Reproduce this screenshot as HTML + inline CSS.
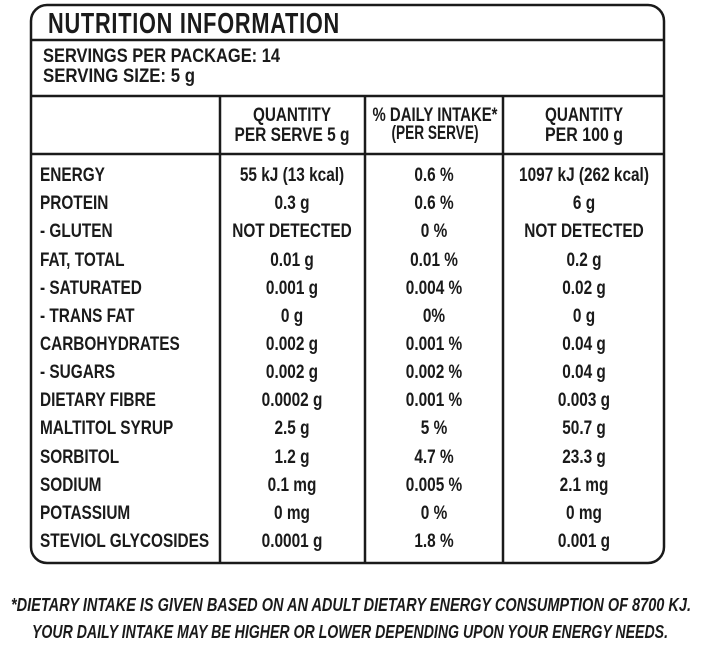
<!DOCTYPE html><html><head><style>body{margin:0;background:#fff}svg{display:block}text{font-family:"Liberation Sans",sans-serif;font-weight:bold;fill:#1a1a1a}</style></head><body>
<svg width="706" height="657" viewBox="0 0 706 657">
<rect x="31" y="5" width="633" height="558" rx="16" fill="none" stroke="#1a1a1a" stroke-width="2.5"/>
<g stroke="#1a1a1a" stroke-width="2.5">
<line x1="31" y1="40" x2="664" y2="40"/><line x1="31" y1="96" x2="664" y2="96"/><line x1="31" y1="154" x2="664" y2="154"/>
<line x1="220" y1="96" x2="220" y2="563"/><line x1="365" y1="96" x2="365" y2="563"/><line x1="503" y1="96" x2="503" y2="563"/>
</g>
<text x="48" y="33" font-size="29" textLength="292" lengthAdjust="spacingAndGlyphs" letter-spacing="1">NUTRITION INFORMATION</text>
<text x="43" y="62" font-size="19" textLength="237" lengthAdjust="spacingAndGlyphs">SERVINGS PER PACKAGE: 14</text>
<text x="43" y="82" font-size="19" textLength="152" lengthAdjust="spacingAndGlyphs">SERVING SIZE: 5 g</text>
<g font-size="19" text-anchor="middle">
<text x="292" y="121" textLength="78" lengthAdjust="spacingAndGlyphs">QUANTITY</text><text x="292" y="141" textLength="115" lengthAdjust="spacingAndGlyphs">PER SERVE 5 g</text>
<text x="435" y="121" textLength="125" lengthAdjust="spacingAndGlyphs">% DAILY INTAKE*</text><text x="435" y="139" textLength="87" lengthAdjust="spacingAndGlyphs">(PER SERVE)</text>
<text x="584" y="121" textLength="78" lengthAdjust="spacingAndGlyphs">QUANTITY</text><text x="584" y="141" textLength="78" lengthAdjust="spacingAndGlyphs">PER 100 g</text>
</g>
<g font-size="19" transform="translate(40,0) scale(0.81,1)">
<text x="0" y="181">ENERGY</text><text x="0" y="209">PROTEIN</text><text x="0" y="237">- GLUTEN</text><text x="0" y="266">FAT, TOTAL</text><text x="0" y="294">- SATURATED</text><text x="0" y="322">- TRANS FAT</text><text x="0" y="350">CARBOHYDRATES</text><text x="0" y="378">- SUGARS</text><text x="0" y="406">DIETARY FIBRE</text><text x="0" y="434">MALTITOL SYRUP</text><text x="0" y="463">SORBITOL</text><text x="0" y="491">SODIUM</text><text x="0" y="519">POTASSIUM</text><text x="0" y="547">STEVIOL GLYCOSIDES</text>
</g>
<g font-size="19" text-anchor="middle" transform="translate(292,0) scale(0.81,1)">
<text x="0" y="181">55 kJ (13 kcal)</text><text x="0" y="209">0.3 g</text><text x="0" y="237">NOT DETECTED</text><text x="0" y="266">0.01 g</text><text x="0" y="294">0.001 g</text><text x="0" y="322">0 g</text><text x="0" y="350">0.002 g</text><text x="0" y="378">0.002 g</text><text x="0" y="406">0.0002 g</text><text x="0" y="434">2.5 g</text><text x="0" y="463">1.2 g</text><text x="0" y="491">0.1 mg</text><text x="0" y="519">0 mg</text><text x="0" y="547">0.0001 g</text>
</g>
<g font-size="19" text-anchor="middle" transform="translate(434,0) scale(0.81,1)">
<text x="0" y="181">0.6 %</text><text x="0" y="209">0.6 %</text><text x="0" y="237">0 %</text><text x="0" y="266">0.01 %</text><text x="0" y="294">0.004 %</text><text x="0" y="322">0%</text><text x="0" y="350">0.001 %</text><text x="0" y="378">0.002 %</text><text x="0" y="406">0.001 %</text><text x="0" y="434">5 %</text><text x="0" y="463">4.7 %</text><text x="0" y="491">0.005 %</text><text x="0" y="519">0 %</text><text x="0" y="547">1.8 %</text>
</g>
<g font-size="19" text-anchor="middle" transform="translate(584,0) scale(0.81,1)">
<text x="0" y="181">1097 kJ (262 kcal)</text><text x="0" y="209">6 g</text><text x="0" y="237">NOT DETECTED</text><text x="0" y="266">0.2 g</text><text x="0" y="294">0.02 g</text><text x="0" y="322">0 g</text><text x="0" y="350">0.04 g</text><text x="0" y="378">0.04 g</text><text x="0" y="406">0.003 g</text><text x="0" y="434">50.7 g</text><text x="0" y="463">23.3 g</text><text x="0" y="491">2.1 mg</text><text x="0" y="519">0 mg</text><text x="0" y="547">0.001 g</text>
</g>
<g font-size="18" font-style="italic" text-anchor="middle">
<text x="351" y="611" textLength="680" lengthAdjust="spacingAndGlyphs">*DIETARY INTAKE IS GIVEN BASED ON AN ADULT DIETARY ENERGY CONSUMPTION OF 8700 KJ.</text>
<text x="350" y="638" textLength="636" lengthAdjust="spacingAndGlyphs">YOUR DAILY INTAKE MAY BE HIGHER OR LOWER DEPENDING UPON YOUR ENERGY NEEDS.</text>
</g>
</svg></body></html>
